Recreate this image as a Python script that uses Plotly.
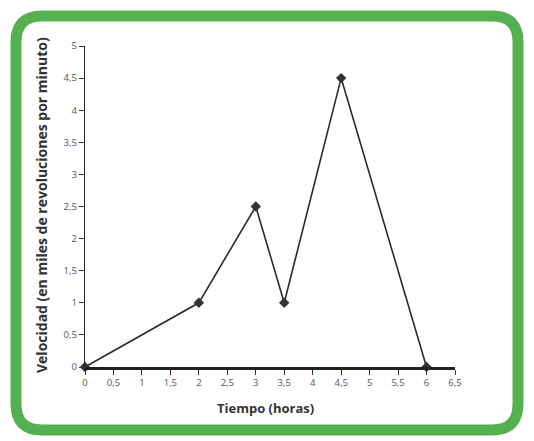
import plotly.graph_objects as go

# Velocidad del motor a lo largo del tiempo
tiempo = [0, 2, 3, 3.5, 4.5, 6]
velocidad = [0, 1, 2.5, 1, 4.5, 0]

x_ticks = [0, 0.5, 1, 1.5, 2, 2.5, 3, 3.5, 4, 4.5, 5, 5.5, 6, 6.5]
x_labels = ["0", "0,5", "1", "1,5", "2", "2,5", "3", "3,5", "4", "4,5", "5", "5,5", "6", "6,5"]
y_ticks = [0, 0.5, 1, 1.5, 2, 2.5, 3, 3.5, 4, 4.5, 5]
y_labels = ["0", "0,5", "1", "1,5", "2", "2,5", "3", "3,5", "4", "4,5", "5"]

W, H = 534, 441
L, R, T, B = 85, 79, 46, 74
pw, ph = W - L - R, H - T - B


def px(x):
    return (x - L) / pw


def py(y):
    return (H - B - y) / ph


# rounded green frame, built in pixel space then mapped to paper coords
x0, x1, y0, y1, r = 16, 518, 16, 430, 26
pts = [
    ("M", (x0 + r, y0)),
    ("L", (x1 - r, y0)),
    ("Q", (x1, y0), (x1, y0 + r)),
    ("L", (x1, y1 - r)),
    ("Q", (x1, y1), (x1 - r, y1)),
    ("L", (x0 + r, y1)),
    ("Q", (x0, y1), (x0, y1 - r)),
    ("L", (x0, y0 + r)),
    ("Q", (x0, y0), (x0 + r, y0)),
]
path = ""
for cmd, *coords in pts:
    path += cmd + " " + " ".join(f"{px(a):.5f},{py(b):.5f}" for a, b in coords) + " "
path += "Z"

fig = go.Figure()
fig.add_trace(go.Scatter(
    x=tiempo, y=velocidad, mode="lines+markers",
    line=dict(color="#2b2b2b", width=1.6),
    marker=dict(symbol="diamond", size=8, color="#333333"),
    cliponaxis=False, showlegend=False,
))

fig.update_layout(
    width=W, height=H,
    margin=dict(l=L, r=R, t=T, b=B),
    paper_bgcolor="white", plot_bgcolor="white",
    font=dict(family="Open Sans", color="#444444"),
    xaxis=dict(
        range=[0, 6.5], tickvals=x_ticks, ticktext=x_labels,
        showgrid=False, zeroline=False, showline=True, linecolor="#222222", linewidth=2.5,
        ticks="outside", ticklen=5, tickwidth=1.2, tickcolor="#333333",
        tickfont=dict(size=9.5, color="#555555"),
    ),
    yaxis=dict(
        range=[0, 5], tickvals=y_ticks, ticktext=y_labels,
        showgrid=False, zeroline=False, showline=True, linecolor="#222222", linewidth=1.3,
        ticks="outside", ticklen=5, tickwidth=1.2, tickcolor="#333333",
        tickfont=dict(size=9.5, color="#555555"),
    ),
    shapes=[dict(type="path", path=path, xref="paper", yref="paper",
                 line=dict(color="#55b04f", width=11), fillcolor="rgba(0,0,0,0)", layer="below")],
    annotations=[
        dict(text="<b>Tiempo (horas)</b>", xref="paper", yref="paper",
             x=px(265), y=py(408), xanchor="center", yanchor="middle",
             showarrow=False, font=dict(size=13, color="#333333")),
        dict(text="<b>Velocidad (en miles de revoluciones por minuto)</b>", xref="paper", yref="paper",
             x=px(41), y=py(205), xanchor="center", yanchor="middle",
             showarrow=False, textangle=-90,
             font=dict(size=14, color="#333333")),
    ],
)

fig.write_html("out.html")
